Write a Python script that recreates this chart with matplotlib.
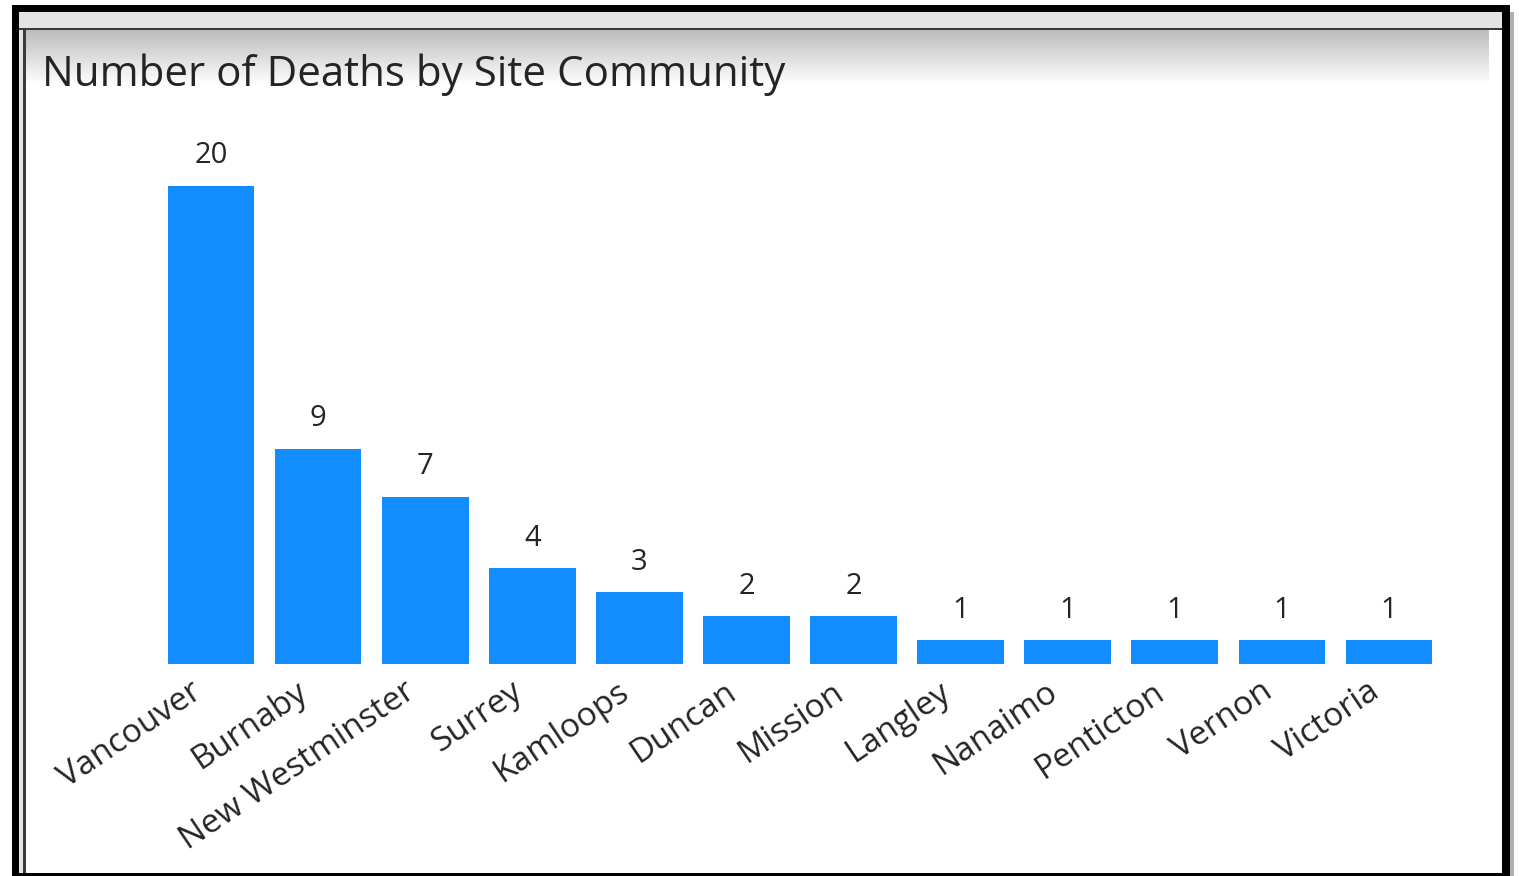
import numpy as np
import matplotlib.pyplot as plt
import matplotlib.transforms as mtransforms
from matplotlib.patches import Rectangle

communities = ["Vancouver", "Burnaby", "New Westminster", "Surrey", "Kamloops", "Duncan",
               "Mission", "Langley", "Nanaimo", "Penticton", "Vernon", "Victoria"]
deaths = [20, 9, 7, 4, 3, 2, 2, 1, 1, 1, 1, 1]

plt.rcParams['font.family'] = ['Open Sans', 'DejaVu Sans']
W, H = 1519, 876
fig = plt.figure(figsize=(W / 100, H / 100), dpi=100)

# screenshot frame drawn in pixel coordinates
bg = fig.add_axes([0, 0, 1, 1])
bg.axis('off')
bg.add_patch(Rectangle((12, 5), 1498, 871, facecolor='black', edgecolor='none', zorder=1))
bg.add_patch(Rectangle((1510, 12), 4, 864, facecolor='#b0b0b0', edgecolor='none', zorder=1))
bg.add_patch(Rectangle((19, 12), 1483, 861, facecolor='#e4e4e4', edgecolor='none', zorder=2))
bg.add_patch(Rectangle((19, 28), 1483, 2, facecolor='#3a3a3a', edgecolor='none', zorder=3))
bg.add_patch(Rectangle((23, 28), 3, 845, facecolor='#3a3a3a', edgecolor='none', zorder=3))
bg.add_patch(Rectangle((26, 30), 1476, 843, facecolor='white', edgecolor='none', zorder=4))
grad = np.linspace(0.74, 1.0, 60).reshape(-1, 1)
bg.imshow(np.dstack([grad, grad, grad]), extent=(26, 1489, 85, 30), aspect='auto', zorder=5)
bg.add_patch(Rectangle((1489, 43), 13, 42, facecolor='white', edgecolor='none', zorder=6))
bg.set_xlim(0, W)
bg.set_ylim(H, 0)

bg.text(42, 75, "Number of Deaths by Site Community", fontsize=30.3, color='#252423',
        va='center', ha='left', zorder=7)

# chart area
unit = 23.9
ymax = 22
left = 157.5 / W
right = 1442.5 / W
bottom = (H - 664) / H
top = (H - (664 - ymax * unit)) / H
ax = fig.add_axes([left, bottom, right - left, top - bottom])
ax.patch.set_alpha(0)
x = np.arange(len(communities))
bars = ax.bar(x, deaths, width=0.81, color='#118DFF')
for xi, v in zip(x, deaths):
    ax.text(xi, v + 0.65, str(v), ha='center', va='bottom', fontsize=21, color='#252423')
ax.set_xlim(-0.5, len(communities) - 0.5)
ax.set_ylim(0, ymax)
ax.set_yticks([])
ax.set_xticks(x)
ax.set_xticklabels(communities, rotation=34, ha='right', rotation_mode='anchor',
                   fontsize=24, color='#252423')
ax.tick_params(axis='x', length=0, pad=8)
shift = mtransforms.ScaledTranslation(-22 / 100, 0, fig.dpi_scale_trans)
for lbl in ax.get_xticklabels():
    lbl.set_transform(lbl.get_transform() + shift)
for s in ax.spines.values():
    s.set_visible(False)

fig.savefig('out.png', dpi=100)
